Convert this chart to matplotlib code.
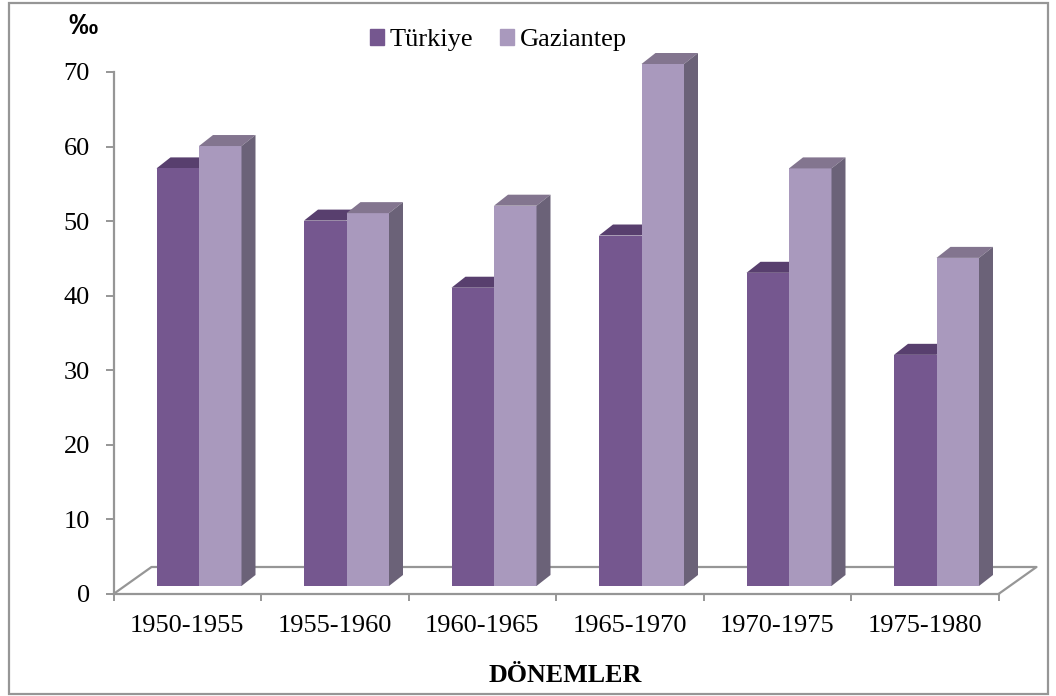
import matplotlib
matplotlib.use("Agg")
import matplotlib.pyplot as plt
from matplotlib.patches import Polygon, Patch, Rectangle

periods = ["1950-1955", "1955-1960", "1960-1965", "1965-1970", "1970-1975", "1975-1980"]
turkiye = [56, 49, 40, 47, 42, 31]
gaziantep = [59, 50, 51, 70, 56, 44]
yticks = [0, 10, 20, 30, 40, 50, 60, 70]

W, H = 1056, 696
GRAY = "#969696"
C_T = "#75578f"
C_G = "#a999bd"
C_T_TOP = "#583f6e"
C_G_TOP = "#83758f"
C_SIDE = "#6b6278"

plt.rcParams["font.family"] = ["Liberation Serif", "DejaVu Serif"]
fig = plt.figure(figsize=(W / 100, H / 100), dpi=100)
ax = fig.add_axes([113.5 / W, (H - 594) / H, 885 / W, 522 / H])
ax.set_xlim(0, 6)
ax.set_ylim(0, 70)

# outer frame of the chart
fig.add_artist(Rectangle((8.5 / W, (H - 693.5) / H), 1039.5 / W, 691 / H, transform=fig.transFigure,
                         fill=False, ec=GRAY, lw=1.6))

# pixels to data units
px = 6 / 885
py = 70 / 522
dx, dy = 14 * px, 11 * py  # bar depth
base = 8 * py  # bars stand a bit behind the front edge
fx, fy = 38 * px, 27 * py  # floor depth
w = 42.5 * px
pad = 43 * px

# floor
ax.plot([0, fx, 6 + fx, 6], [0, fy, fy, 0], color=GRAY, lw=1.6, clip_on=False, zorder=1)

for i in range(6):
    x0 = i + pad
    x1 = x0 + w
    x2 = x1 + w
    ax.bar(x0, turkiye[i], w, bottom=base, align="edge", color=C_T, zorder=3, clip_on=False)
    ax.bar(x1, gaziantep[i], w, bottom=base, align="edge", color=C_G, zorder=3, clip_on=False)
    tt = turkiye[i] + base
    tg = gaziantep[i] + base
    ax.add_patch(Polygon([(x0, tt), (x0 + dx, tt + dy), (x1 + dx, tt + dy), (x1, tt)], color=C_T_TOP, lw=0, zorder=2, clip_on=False))
    ax.add_patch(Polygon([(x1, tg), (x1 + dx, tg + dy), (x2 + dx, tg + dy), (x2, tg)], color=C_G_TOP, lw=0, zorder=3, clip_on=False))
    ax.add_patch(Polygon([(x2, base), (x2 + dx, base + dy), (x2 + dx, tg + dy), (x2, tg)], color=C_SIDE, lw=0, zorder=3, clip_on=False))

for s in ["top", "right"]:
    ax.spines[s].set_visible(False)
for s in ["left", "bottom"]:
    ax.spines[s].set_color(GRAY)
    ax.spines[s].set_linewidth(1.6)
    ax.spines[s].set_zorder(1)

ax.set_yticks(yticks)
ax.set_xticks(range(7))
ax.set_xticks([i + 0.5 for i in range(6)], periods, minor=True)
ax.set_xticklabels([])
ax.tick_params(axis="x", which="major", length=5, width=1.4, color=GRAY)
ax.tick_params(axis="x", which="minor", length=0, labelsize=19, pad=15, labelcolor="black")
ax.tick_params(axis="y", length=6, width=1.4, color=GRAY, labelsize=19, pad=11, labelcolor="black")

fig.text(642 / W, 1 - 682 / H, "DÖNEMLER", ha="right", va="baseline", fontsize=18.7, fontweight="bold")
fig.text(68 / W, 1 - 34.5 / H, "‰", ha="left", va="baseline", fontsize=21, fontweight="bold", family=["Liberation Sans", "DejaVu Sans"])

handles = [Patch(color=C_T, label="Türkiye"), Patch(color=C_G, label="Gaziantep")]
fig.legend(handles=handles, ncol=2, frameon=False, fontsize=19, loc="center left",
           bbox_to_anchor=(362 / W, 1 - 40 / H), handlelength=0.55, handleheight=0.55,
           handletextpad=0.2, columnspacing=1.0, borderpad=0.3, borderaxespad=0)

fig.savefig("out.png", dpi=100)
